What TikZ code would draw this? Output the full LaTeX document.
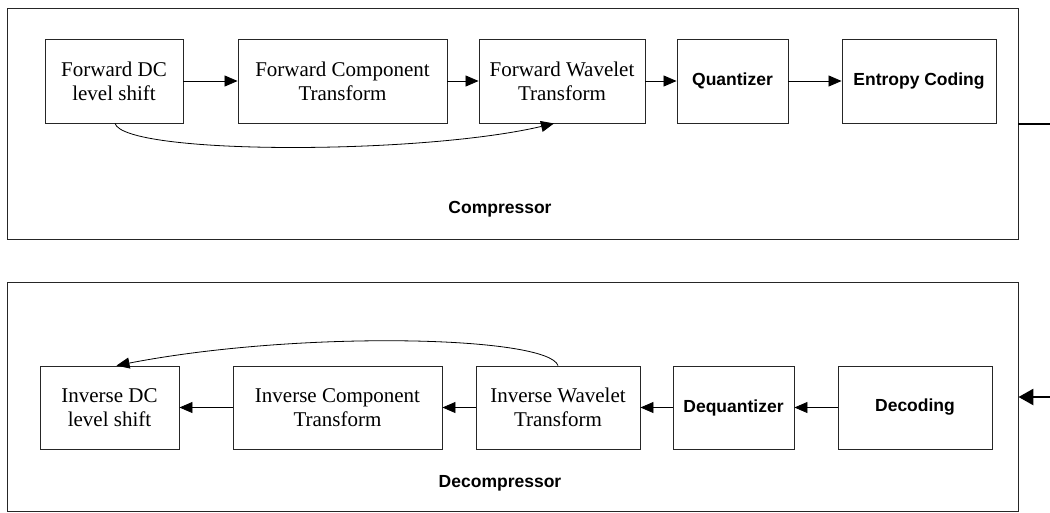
\documentclass[tikz,border=0pt]{standalone}
\usepackage{fontspec}
\setmainfont{Liberation Serif}
\setsansfont{Liberation Sans}
\usetikzlibrary{arrows.meta}
\begin{document}
\begin{tikzpicture}[x=1pt,y=-1pt,
  frame/.style={draw=black!85, line width=0.9pt, inner sep=0pt},
  serifbox/.style={draw=black!85, line width=0.9pt, inner sep=0pt, align=center,
    font=\fontsize{21}{24}\selectfont},
  sansbox/.style={draw=black!85, line width=0.9pt, inner sep=0pt, align=center,
    font=\sffamily\bfseries\fontsize{17.5}{21}\selectfont},
  flow/.style={line width=0.8pt, -{Triangle[length=13pt,width=11pt]}},
  bigflow/.style={line width=2.6pt, -{Triangle[length=15pt,width=16pt]}},
  lbl/.style={font=\sffamily\bfseries\fontsize{17.5}{21}\selectfont, anchor=base}
]
\useasboundingbox (0,0) rectangle (1050,512);

% outer frames
\node[frame, minimum width=1011pt, minimum height=231pt] (comp) at (512.5,123.5) {};
\node[frame, minimum width=1011pt, minimum height=229pt] (decomp) at (512.5,396.5) {};

% compressor row
\node[serifbox, minimum width=138pt, minimum height=84pt] (f1) at (114,81) {Forward DC\\level shift};
\node[serifbox, minimum width=209pt, minimum height=84pt] (f2) at (342.5,81) {Forward Component\\Transform};
\node[serifbox, minimum width=166pt, minimum height=84pt] (f3) at (562,81) {Forward Wavelet\\Transform};
\node[sansbox, minimum width=111pt, minimum height=84pt] (f4) at (732.5,81) {Quantizer};
\node[sansbox, minimum width=154pt, minimum height=84pt] (f5) at (919,81) {Entropy Coding};

\draw[flow] (f1) -- (f2);
\draw[flow] (f2) -- (f3);
\draw[flow] (f3) -- (f4);
\draw[flow] (f4) -- (f5);
\draw[flow] ([xshift=1pt]f1.south) .. controls (125,155) and (420,155) .. ([xshift=-8pt]f3.south);

\node[lbl] (clbl) at (500,213) {Compressor};

% decompressor row
\node[serifbox, minimum width=139pt, minimum height=83pt] (i1) at (109.5,407.5) {Inverse DC\\level shift};
\node[serifbox, minimum width=209pt, minimum height=83pt] (i2) at (337.5,407.5) {Inverse Component\\Transform};
\node[serifbox, minimum width=164pt, minimum height=83pt] (i3) at (558,407.5) {Inverse Wavelet\\Transform};
\node[sansbox, minimum width=121pt, minimum height=83pt] (i4) at (733.5,407.5) {Dequantizer};
\node[sansbox, minimum width=154pt, minimum height=83pt] (i5) at (915,407.5) {Decoding};

\draw[flow] (i5) -- (i4);
\draw[flow] (i4) -- (i3);
\draw[flow] (i3) -- (i2);
\draw[flow] (i2) -- (i1);
\draw[flow] (i3.north) .. controls (548,336) and (300,330) .. ([xshift=7pt]i1.north);

\node[lbl] (dlbl) at (500,487) {Decompressor};

% external connections
\coordinate (outend) at (1050,124);
\coordinate (instart) at (1050,397);
\draw[line width=2.6pt] (comp.east |- outend) -- (outend);
\draw[bigflow] (instart) -- (decomp.east |- instart);
\end{tikzpicture}
\end{document}
